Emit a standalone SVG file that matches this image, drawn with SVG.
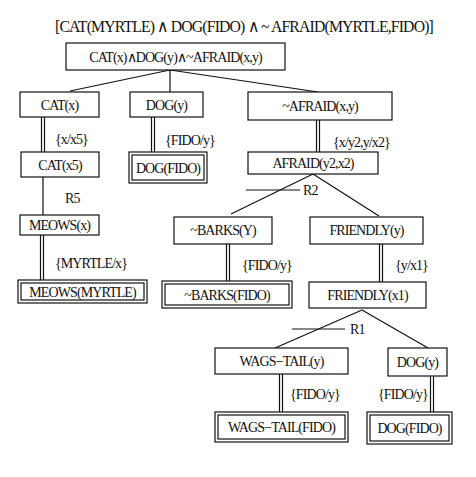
<svg xmlns="http://www.w3.org/2000/svg" width="476" height="477" viewBox="0 0 476 477">
<style>
text{font-family:"Liberation Serif","Times New Roman",serif;font-size:14px;fill:#111;text-anchor:middle;dominant-baseline:central;letter-spacing:-0.9px}
.lab{text-anchor:start}
rect{fill:#fff;stroke:#111;stroke-width:1.2}
line,path{stroke:#111;stroke-width:1.2;fill:none}
.dbl{stroke:#111;stroke-width:1.1}
</style>
<rect x="0" y="0" width="476" height="477" style="stroke:none;fill:#fff"/>
<text x="244" y="26" style="font-size:17px" textLength="378" lengthAdjust="spacingAndGlyphs">[CAT(MYRTLE) ∧ DOG(FIDO) ∧ ~ AFRAID(MYRTLE,FIDO)]</text>
<g id="connectors">
<line x1="170" y1="70" x2="70" y2="91"/>
<line x1="170" y1="70" x2="170" y2="92"/>
<line x1="170" y1="70" x2="318" y2="92"/>
<g class="dbl"><line x1="41.5" y1="117" x2="41.5" y2="152"/><line x1="44.5" y1="117" x2="44.5" y2="152"/></g>
<g class="dbl"><line x1="151.5" y1="117" x2="151.5" y2="152"/><line x1="154.5" y1="117" x2="154.5" y2="152"/></g>
<g class="dbl"><line x1="316.5" y1="120" x2="316.5" y2="152"/><line x1="319.5" y1="120" x2="319.5" y2="152"/></g>
<line x1="43" y1="177" x2="43" y2="215"/>
<g class="dbl"><line x1="40.5" y1="235" x2="40.5" y2="280"/><line x1="43.5" y1="235" x2="43.5" y2="280"/></g>
<line x1="313" y1="174" x2="231" y2="214"/>
<line x1="313" y1="174" x2="379" y2="216"/>
<line x1="246" y1="190" x2="300" y2="190"/>
<g class="dbl"><line x1="226.5" y1="244" x2="226.5" y2="281"/><line x1="229.5" y1="244" x2="229.5" y2="281"/></g>
<g class="dbl"><line x1="379.5" y1="244" x2="379.5" y2="282"/><line x1="382.5" y1="244" x2="382.5" y2="282"/></g>
<line x1="362" y1="310" x2="275" y2="348"/>
<line x1="362" y1="310" x2="428" y2="348"/>
<line x1="292" y1="329" x2="345" y2="329"/>
<g class="dbl"><line x1="279.5" y1="374" x2="279.5" y2="412"/><line x1="282.5" y1="374" x2="282.5" y2="412"/></g>
<g class="dbl"><line x1="430.5" y1="376" x2="430.5" y2="412"/><line x1="433.5" y1="376" x2="433.5" y2="412"/></g>
<text class="lab" x="55" y="139">{x/x5}</text>
<text class="lab" x="165" y="140">{FIDO/y}</text>
<text class="lab" x="333" y="142">{x/y2,y/x2}</text>
<text class="lab" x="65" y="198">R5</text>
<text class="lab" x="55" y="263">{MYRTLE/x}</text>
<text class="lab" x="303" y="190">R2</text>
<text class="lab" x="242" y="265">{FIDO/y}</text>
<text class="lab" x="395" y="265">{y/x1}</text>
<text class="lab" x="350" y="329">R1</text>
<text class="lab" x="290" y="394">{FIDO/y}</text>
<text class="lab" x="378" y="394">{FIDO/y}</text>
</g>
<g id="root"><rect x="66" y="43" width="219" height="27"/><text x="175.5" y="57">CAT(x)∧DOG(y)∧~AFRAID(x,y)</text></g>
<g id="catx"><rect x="20" y="92" width="79" height="25"/><text x="59.5" y="105">CAT(x)</text></g>
<g id="dogy"><rect x="130" y="92" width="73" height="25"/><text x="166.5" y="105">DOG(y)</text></g>
<g id="nafraid"><rect x="248" y="92" width="144" height="28"/><text x="320" y="106">~AFRAID(x,y)</text></g>
<g id="catx5"><rect x="21" y="152" width="78" height="25"/><text x="60" y="165">CAT(x5)</text></g>
<g id="dogfido1"><rect x="129" y="152" width="78" height="31"/><rect x="132" y="155" width="72" height="25"/><text x="168" y="168">DOG(FIDO)</text></g>
<g id="afraid"><rect x="248" y="152" width="130" height="22"/><text x="313" y="163">AFRAID(y2,x2)</text></g>
<g id="meowsx"><rect x="20" y="215" width="79" height="20"/><text x="59.5" y="225">MEOWS(x)</text></g>
<g id="meowsmyrtle"><rect x="18" y="280" width="129" height="23"/><rect x="21" y="283" width="123" height="17"/><text x="82.5" y="292">MEOWS(MYRTLE)</text></g>
<g id="nbarksy"><rect x="174" y="217" width="98" height="27"/><text x="223" y="230.5">~BARKS(Y)</text></g>
<g id="friendlyy"><rect x="310" y="217" width="113" height="27"/><text x="366.5" y="230.5">FRIENDLY(y)</text></g>
<g id="nbarksfido"><rect x="162" y="281" width="130" height="27"/><rect x="165" y="284" width="124" height="21"/><text x="227" y="295">~BARKS(FIDO)</text></g>
<g id="friendlyx1"><rect x="309" y="282" width="117" height="26"/><text x="367.5" y="295">FRIENDLY(x1)</text></g>
<g id="wagsy"><rect x="215" y="348" width="133" height="26"/><text x="281.5" y="361">WAGS−TAIL(y)</text></g>
<g id="dogy2"><rect x="388" y="348" width="59" height="28"/><text x="417.5" y="362">DOG(y)</text></g>
<g id="wagsfido"><rect x="215" y="412" width="133" height="30"/><rect x="218" y="415" width="127" height="24"/><text x="281.5" y="427">WAGS−TAIL(FIDO)</text></g>
<g id="dogfido2"><rect x="367" y="412" width="85" height="32"/><rect x="370" y="415" width="79" height="26"/><text x="409.5" y="428">DOG(FIDO)</text></g>
</svg>
